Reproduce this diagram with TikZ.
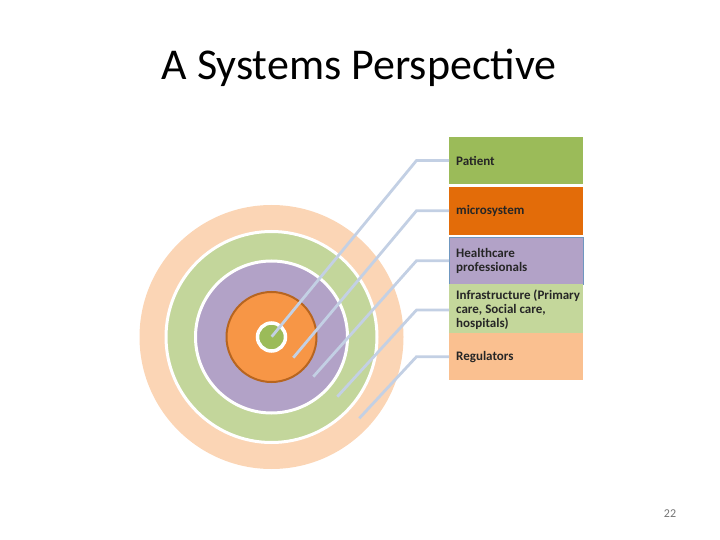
\documentclass[tikz,border=0pt]{standalone}
\usepackage{fontspec}
\setmainfont{Carlito}
\definecolor{peach}{HTML}{FBD5B5}
\definecolor{ltgreen}{HTML}{C3D69B}
\definecolor{purp}{HTML}{B2A2C7}
\definecolor{orng}{HTML}{F79646}
\definecolor{brown}{HTML}{B7651F}
\definecolor{dkgreen}{HTML}{9BBB59}
\definecolor{dkorange}{HTML}{E36C09}
\definecolor{regfill}{HTML}{FAC090}
\definecolor{infill}{HTML}{C4D79B}
\definecolor{conn}{HTML}{C3D0E4}
\definecolor{hcborder}{HTML}{6F97C0}
\begin{document}
\begin{tikzpicture}[x=1pt,y=-1pt,
  lbl/.style={rectangle,minimum width=134pt,minimum height=47pt,anchor=north west,inner sep=0pt},
  txt/.style={anchor=west,align=left,inner sep=0pt,font=\fontsize{13}{14}\selectfont\bfseries,text=black!85},
  link/.style={draw=conn,line width=2.8pt}]
\useasboundingbox (0,0) rectangle (720,540);
\node[font=\fontsize{44}{48}\selectfont] (title) at (359,68) {A Systems Perspective};
% rings
\coordinate (c) at (271.5,337);
\fill[peach] (c) circle (132);
\draw[fill=ltgreen,draw=white,line width=3pt] (c) circle (105.5);
\draw[fill=purp,draw=white,line width=3pt] (c) circle (76);
\draw[fill=orng,draw=brown,line width=2pt] (c) circle (45);
\draw[fill=dkgreen,draw=white,line width=3.5pt] (c) circle (14);
% boxes
\node[lbl,fill=dkgreen] (b1) at (449,137) {};
\node[lbl,fill=dkorange,minimum height=48pt] (b2) at (449,187) {};
\node[lbl,fill=purp,draw=hcborder,line width=0.6pt] (b3) at (449,237) {};
\node[lbl,fill=infill,minimum height=49pt] (b4) at (449,284) {};
\node[lbl,fill=regfill] (b5) at (449,333) {};
\node[txt] (t1) at (456,160.5) {Patient};
\node[txt] (t2) at (456,211) {microsystem};
\node[txt] (t3) at (456,261) {Healthcare\\professionals};
\node[txt] (t4) at (456,309.5) {Infrastructure (Primary\\care, Social care,\\hospitals)};
\node[txt] (t5) at (456,357) {Regulators};
% connector ends
\coordinate (e1) at (271.7,336.7);
\coordinate (e2) at (293.3,357.7);
\coordinate (e3) at (313.3,376.7);
\coordinate (e4) at (337.3,396.7);
\coordinate (e5) at (359.3,418.3);
\draw[link] (b1.west |- 0,160.5) -- (416.5,160.5) -- (e1);
\draw[link] (b2.west |- 0,210.7) -- (416.5,210.7) -- (e2);
\draw[link] (b3.west |- 0,260.7) -- (416.5,260.7) -- (e3);
\draw[link] (b4.west |- 0,310) -- (416.5,310) -- (e4);
\draw[link] (b5.west |- 0,356.7) -- (416.5,356.7) -- (e5);
\node[font=\fontsize{12}{14}\selectfont,text=black!55] (pg) at (670,514) {22};
\end{tikzpicture}
\end{document}
